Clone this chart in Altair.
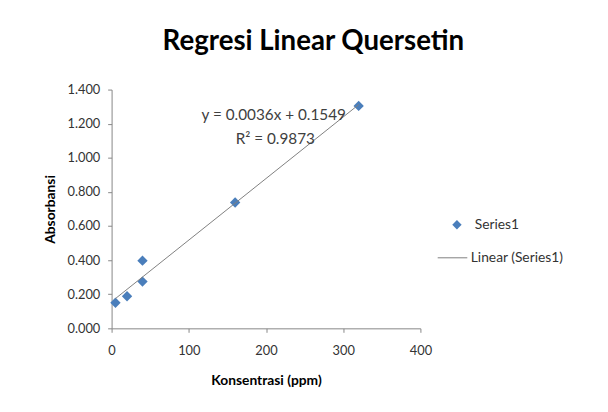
import altair as alt
import pandas as pd

konsentrasi = [5, 20, 40, 40, 160, 320]
absorbansi = [0.150, 0.188, 0.274, 0.397, 0.738, 1.304]

eq_lines = ["y = 0.0036x + 0.1549", "R² = 0.9873"]
eq_x = [210, 212]
eq_y = [1.25, 1.112]

x_ticks = [0, 100, 200, 300, 400]
y_ticks = [0, 0.2, 0.4, 0.6, 0.8, 1.0, 1.2, 1.4]

FONT = "Lato"

df = pd.DataFrame({"x": konsentrasi, "y": absorbansi, "s": ["Series1"] * len(konsentrasi)})
ann = pd.DataFrame({"x": eq_x, "y": eq_y, "t": eq_lines})

x_enc = alt.X("x:Q", scale=alt.Scale(domain=[0, 400], nice=False),
              axis=alt.Axis(values=x_ticks, tickCount=10, title="Konsentrasi (ppm)", format="d",
                            labelPadding=13, titlePadding=16, labelFlush=False))
y_enc = alt.Y("y:Q", scale=alt.Scale(domain=[0, 1.4], nice=False),
              axis=alt.Axis(values=y_ticks, tickCount=12, title="Absorbansi", format=".3f",
                            labelPadding=8, titlePadding=10, labelFlush=False))

points = alt.Chart(df).mark_point(filled=True, shape="diamond", size=110, opacity=1).encode(
    x=x_enc, y=y_enc,
    color=alt.Color("s:N", scale=alt.Scale(domain=["Series1"], range=["#4a7ebb"]),
                    legend=alt.Legend(title=None, orient="none", legendX=343, legendY=130,
                                      symbolType="diamond", symbolSize=90, labelOffset=11,
                                      padding=0)),
)

line = alt.Chart(df).transform_regression("x", "y").transform_calculate(
    s="'Linear (Series1)'"
).mark_line(strokeWidth=1, color="#7f7f7f").encode(
    x="x:Q", y="y:Q",
    stroke=alt.Stroke("s:N", scale=alt.Scale(domain=["Linear (Series1)"], range=["#7f7f7f"]),
                      legend=alt.Legend(title=None, orient="none", legendX=330, legendY=155,
                                        symbolType="stroke", symbolSize=900, symbolStrokeWidth=1,
                                        labelOffset=3, padding=0)),
)

text = alt.Chart(ann).mark_text(fontSize=15.5, color="#404040", font=FONT).encode(
    x="x:Q", y="y:Q", text="t:N"
)

chart = alt.layer(points, line, text).resolve_scale(color="independent").properties(
    width=313, height=242,
    autosize=alt.AutoSizeParams(type="none"),
    padding={"left": 105, "top": 80, "right": 182, "bottom": 74},
    title=alt.TitleParams("Regresi Linear Quersetin", fontSize=28, font=FONT, fontWeight="bold",
                          color="#000000", anchor="middle", dx=48, offset=28),
).configure(background="white").configure_view(stroke=None).configure_axis(
    grid=False, domainColor="#868686", tickColor="#868686", tickSize=4,
    labelFont=FONT, labelFontSize=13, labelColor="#333333", labelOverlap=False,
    titleFont=FONT, titleFontSize=14, titleFontWeight="bold", titleColor="#000000",
).configure_legend(
    labelFont=FONT, labelFontSize=14, labelColor="#333333"
)

chart.save("out.html", embed_options={"renderer": "svg", "actions": False})
